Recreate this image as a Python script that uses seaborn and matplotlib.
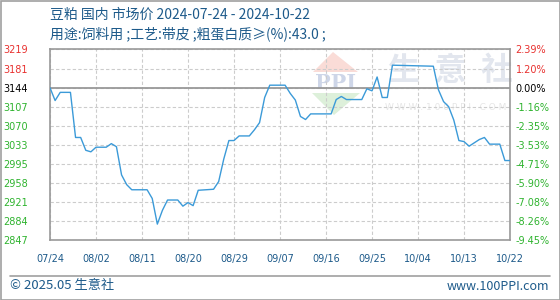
import matplotlib
matplotlib.use("Agg")
import matplotlib.pyplot as plt
from matplotlib.patches import Polygon, Rectangle
from matplotlib.lines import Line2D
import seaborn as sns
import pandas as pd

# ---------------- data ----------------
dates = ["2024-07-24", "2024-07-25", "2024-07-26", "2024-07-28", "2024-07-29", "2024-07-30",
         "2024-07-31", "2024-08-01", "2024-08-02", "2024-08-04", "2024-08-05", "2024-08-06",
         "2024-08-07", "2024-08-08", "2024-08-09", "2024-08-12", "2024-08-13", "2024-08-14",
         "2024-08-15", "2024-08-16", "2024-08-18", "2024-08-19", "2024-08-20", "2024-08-21",
         "2024-08-22", "2024-08-25", "2024-08-26", "2024-08-27", "2024-08-28", "2024-08-29",
         "2024-08-30", "2024-09-01", "2024-09-02", "2024-09-03", "2024-09-04", "2024-09-05",
         "2024-09-08", "2024-09-09", "2024-09-10", "2024-09-11", "2024-09-12", "2024-09-13",
         "2024-09-17", "2024-09-18", "2024-09-19", "2024-09-20", "2024-09-23", "2024-09-24",
         "2024-09-25", "2024-09-26", "2024-09-27", "2024-09-28", "2024-09-29", "2024-10-07",
         "2024-10-08", "2024-10-09", "2024-10-10", "2024-10-11", "2024-10-12", "2024-10-13",
         "2024-10-14", "2024-10-16", "2024-10-17", "2024-10-18", "2024-10-20", "2024-10-21",
         "2024-10-22"]
prices = [3144, 3119, 3135, 3135, 3047, 3047,
          3022, 3019, 3028, 3028, 3035, 3029,
          2974, 2955, 2945, 2945, 2928, 2878,
          2905, 2925, 2925, 2913, 2920, 2914,
          2944, 2946, 2961, 3005, 3041, 3041,
          3050, 3050, 3062, 3076, 3125, 3149,
          3149, 3133, 3120, 3088, 3082, 3093,
          3093, 3121, 3127, 3121, 3121, 3142,
          3138, 3165, 3125, 3125, 3188, 3186,
          3140, 3117, 3107, 3081, 3041, 3039,
          3030, 3043, 3047, 3034, 3034, 3002,
          3002]

base_price = 3144
y_ticks = [3219, 3181, 3144, 3107, 3070, 3033, 2995, 2958, 2921, 2884, 2847]
pct_labels = ["2.39%", "1.20%", "0.00%", "-1.16%", "-2.35%", "-3.53%",
              "-4.71%", "-5.90%", "-7.08%", "-8.26%", "-9.45%"]
x_tick_dates = ["2024-07-24", "2024-08-02", "2024-08-11", "2024-08-20", "2024-08-29",
                "2024-09-07", "2024-09-16", "2024-09-25", "2024-10-04", "2024-10-13",
                "2024-10-22"]
x_tick_labels = ["07/24", "08/02", "08/11", "08/20", "08/29", "09/07",
                 "09/16", "09/25", "10/04", "10/13", "10/22"]

title1 = "豆粕 国内 市场价 2024-07-24 - 2024-10-22"
title2 = "用途:饲料用 ;工艺:带皮 ;粗蛋白质≥(%):43.0 ;"
footer_left = "© 2025.05 生意社"
footer_right = "www.100PPI.com"

# ---------------- style ----------------
sns.set_style("white")
plt.rcParams['font.family'] = ['DejaVu Sans', 'Noto Sans CJK SC']
CJK = ['Noto Sans CJK SC', 'DejaVu Sans']

W, H = 560, 300
fig = plt.figure(figsize=(W / 100, H / 100), dpi=100)

def fx(x):
    return x / W

def fy(y):
    return 1 - y / H

# watermark (drawn first, behind everything)
wm_pink = Polygon([(fx(333), fy(52)), (fx(313), fy(72)), (fx(358), fy(72))],
                  closed=True, transform=fig.transFigure, facecolor='#fadcd7',
                  edgecolor='none', zorder=-5)
wm_green = Polygon([(fx(312), fy(93)), (fx(360), fy(93)), (fx(334), fy(115))],
                   closed=True, transform=fig.transFigure, facecolor='#ddf0da',
                   edgecolor='none', zorder=-5)
fig.patches.extend([wm_pink, wm_green])
fig.text(fx(336), fy(83), "PPI", ha='center', va='center', fontsize=15,
         family='DejaVu Serif', fontweight='bold', color='#ced6e8', zorder=-5)
fig.text(fx(450), fy(71), "生  意  社", ha='center', va='center', fontsize=23,
         family=CJK, fontweight='bold', color='#e2e6ee', zorder=-5)
fig.text(fx(446), fy(107), "W W W . 1 0 0 P P I . C O M", ha='center', va='center',
         fontsize=6.5, color='#e6e6e6', zorder=-5)

# plot area
L, R, T, B = 50, 510, 49.3, 240
ax = fig.add_axes([fx(L), fy(B), (R - L) / W, (B - T) / H])
ax.patch.set_alpha(0)

df = pd.DataFrame({"date": pd.to_datetime(dates), "price": prices})
sns.lineplot(data=df, x="date", y="price", ax=ax, color='#3b9ad8', linewidth=1.0,
             zorder=5)

xmin = pd.Timestamp(x_tick_dates[0])
xmax = pd.Timestamp(x_tick_dates[-1])
ax.set_xlim(xmin, xmax)
ax.set_ylim(min(y_ticks), max(y_ticks))
ax.set_xlabel("")
ax.set_ylabel("")

ax.set_xticks(pd.to_datetime(x_tick_dates))
ax.set_xticklabels(x_tick_labels)
ax.set_yticks(y_ticks)
ax.set_yticklabels([str(v) for v in y_ticks])

ax.grid(True, linestyle=(0, (3, 2)), color='#cccccc', linewidth=0.8)
ax.axhline(base_price, color='#999999', linewidth=1.3, zorder=4)

for s in ax.spines.values():
    s.set_color('#999999')
    s.set_linewidth(1.2)

def tick_color(v):
    if v > base_price:
        return '#e8312f'
    if v == base_price:
        return '#000000'
    return '#2eb32e'

ax.tick_params(axis='y', length=0, pad=16, labelsize=7)
ax.tick_params(axis='x', length=0, pad=10, labelsize=7, labelcolor='#1d5a8a')
for lab, v in zip(ax.get_yticklabels(), y_ticks):
    lab.set_color(tick_color(v))

ax2 = ax.twinx()
ax2.set_ylim(ax.get_ylim())
ax2.set_yticks(y_ticks)
ax2.set_yticklabels(pct_labels)
ax2.tick_params(axis='y', length=0, pad=4, labelsize=7)
for lab, v in zip(ax2.get_yticklabels(), y_ticks):
    lab.set_color(tick_color(v))
    lab.set_ha('left')
for s in ax2.spines.values():
    s.set_visible(False)
ax2.grid(False)
ax2.patch.set_alpha(0)

# titles
title_color = '#1d5a8a'
fig.text(fx(50), fy(15), title1, ha='left', va='center', fontsize=10,
         family=CJK, color=title_color)
fig.text(fx(50), fy(34), title2, ha='left', va='center', fontsize=10,
         family=CJK, color=title_color)

# footer
fig.lines.append(Line2D([fx(10), fx(550)], [fy(275.5), fy(275.5)],
                        transform=fig.transFigure, color='#a0a0a0', linewidth=1.2))
fig.text(fx(10), fy(286), footer_left, ha='left', va='center', fontsize=9.5,
         family=CJK, color=title_color)
fig.text(fx(549), fy(286), footer_right, ha='right', va='center', fontsize=9,
         family=CJK, color=title_color)

# outer border
fig.patches.append(Rectangle((fx(0.5), fy(299.5)), fx(559), 299 / H,
                             transform=fig.transFigure, fill=False,
                             edgecolor='#a0a0a0', linewidth=1.2))

fig.savefig("out.png", dpi=100)
